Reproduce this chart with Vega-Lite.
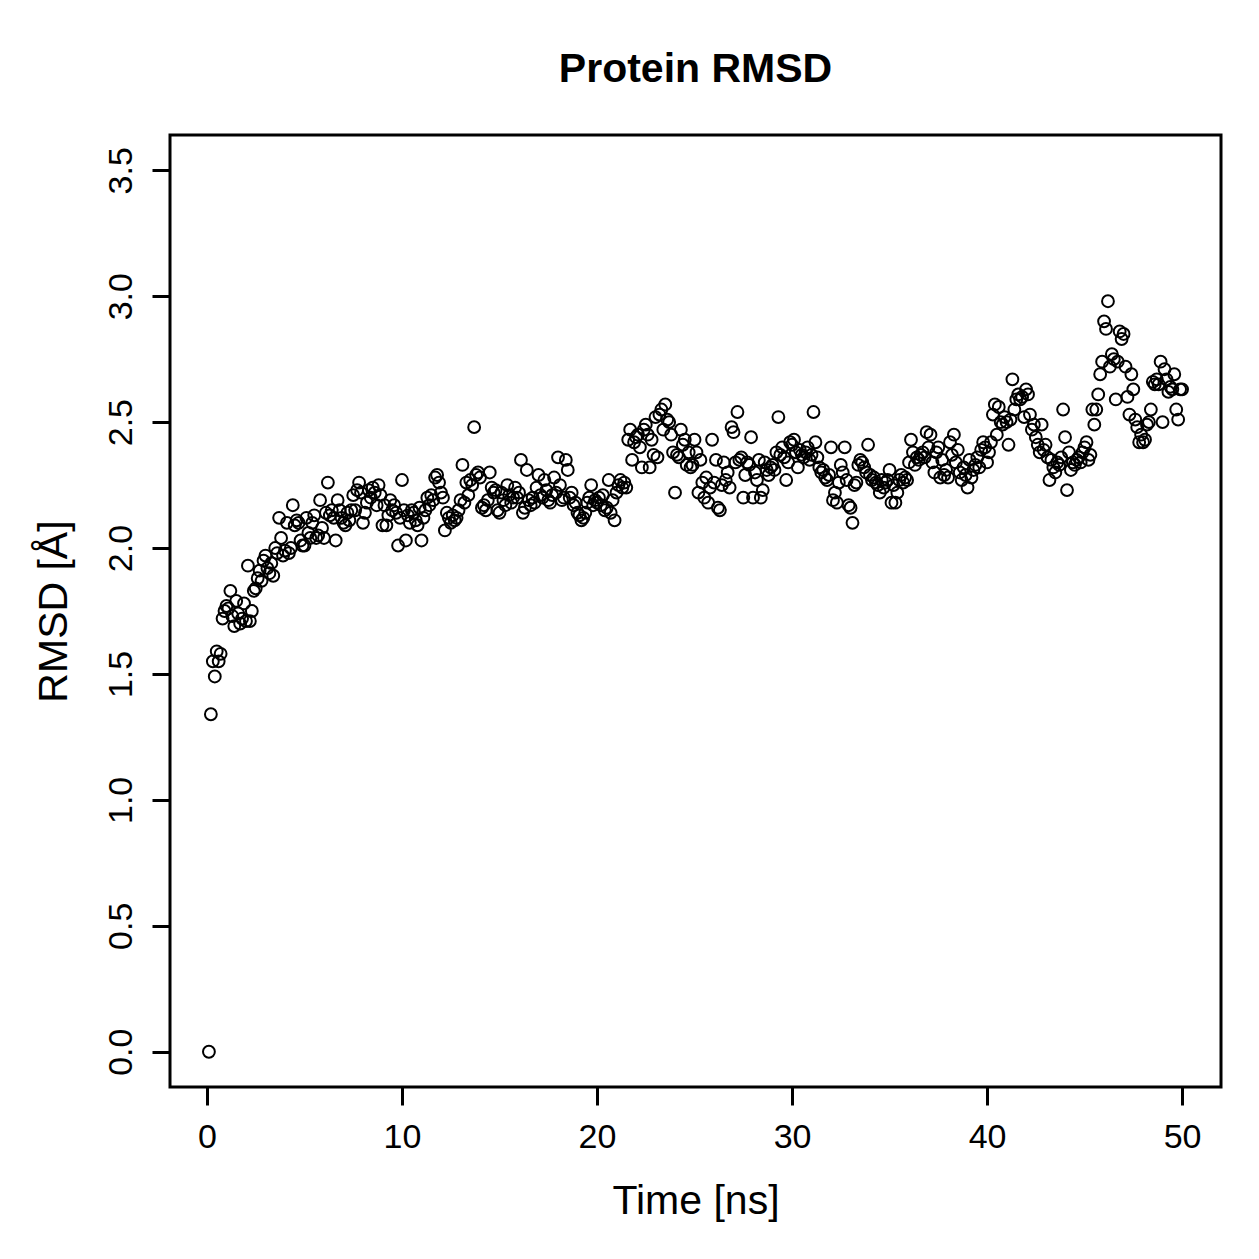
{
  "$schema": "https://vega.github.io/schema/vega-lite/v6.json",
  "width": 1051,
  "height": 952,
  "autosize": {"type": "none"},
  "padding": {"left": 170, "top": 135, "right": 38, "bottom": 172},
  "background": "white",
  "title": {
    "text": "Protein RMSD",
    "font": "Liberation Sans",
    "fontSize": 41,
    "fontWeight": "bold",
    "color": "black",
    "anchor": "middle",
    "baseline": "alphabetic",
    "offset": 12
  },
  "config": {
    "view": {"stroke": "black", "strokeWidth": 3},
    "axis": {
      "labelFont": "Liberation Sans",
      "titleFont": "Liberation Sans",
      "labelFontSize": 34,
      "titleFontSize": 41,
      "titleFontWeight": "normal",
      "labelColor": "black",
      "titleColor": "black",
      "tickColor": "black",
      "tickWidth": 3,
      "tickSize": 18,
      "domain": false,
      "grid": false
    }
  },
  "data": {
    "values": [
      {"t": 0.1, "r": 0.00}, {"t": 0.2, "r": 1.34}, {"t": 0.3, "r": 1.55}, {"t": 0.4, "r": 1.49}, {"t": 0.5, "r": 1.59},
      {"t": 0.6, "r": 1.55}, {"t": 0.7, "r": 1.58}, {"t": 0.8, "r": 1.72}, {"t": 0.9, "r": 1.75}, {"t": 1.0, "r": 1.77},
      {"t": 1.1, "r": 1.76}, {"t": 1.2, "r": 1.83}, {"t": 1.3, "r": 1.73}, {"t": 1.4, "r": 1.69}, {"t": 1.5, "r": 1.79},
      {"t": 1.6, "r": 1.74}, {"t": 1.7, "r": 1.70}, {"t": 1.8, "r": 1.72}, {"t": 1.9, "r": 1.78}, {"t": 2.0, "r": 1.71},
      {"t": 2.1, "r": 1.93}, {"t": 2.2, "r": 1.71}, {"t": 2.3, "r": 1.75}, {"t": 2.4, "r": 1.83}, {"t": 2.5, "r": 1.84},
      {"t": 2.6, "r": 1.88}, {"t": 2.7, "r": 1.91}, {"t": 2.8, "r": 1.87}, {"t": 2.9, "r": 1.95}, {"t": 3.0, "r": 1.97},
      {"t": 3.1, "r": 1.92}, {"t": 3.2, "r": 1.90}, {"t": 3.3, "r": 1.94}, {"t": 3.4, "r": 1.89}, {"t": 3.5, "r": 2.00},
      {"t": 3.6, "r": 1.98}, {"t": 3.7, "r": 2.12}, {"t": 3.8, "r": 2.04}, {"t": 3.9, "r": 1.97}, {"t": 4.0, "r": 1.99},
      {"t": 4.1, "r": 2.10}, {"t": 4.2, "r": 1.98}, {"t": 4.3, "r": 2.00}, {"t": 4.4, "r": 2.17}, {"t": 4.5, "r": 2.09},
      {"t": 4.6, "r": 2.11}, {"t": 4.7, "r": 2.10}, {"t": 4.8, "r": 2.03}, {"t": 4.9, "r": 2.01}, {"t": 5.0, "r": 2.01},
      {"t": 5.1, "r": 2.12}, {"t": 5.2, "r": 2.06}, {"t": 5.3, "r": 2.04}, {"t": 5.4, "r": 2.10}, {"t": 5.5, "r": 2.13},
      {"t": 5.6, "r": 2.04}, {"t": 5.7, "r": 2.05}, {"t": 5.8, "r": 2.19}, {"t": 5.9, "r": 2.08}, {"t": 6.0, "r": 2.04},
      {"t": 6.1, "r": 2.14}, {"t": 6.2, "r": 2.26}, {"t": 6.3, "r": 2.13}, {"t": 6.4, "r": 2.15}, {"t": 6.5, "r": 2.12},
      {"t": 6.6, "r": 2.03}, {"t": 6.7, "r": 2.19}, {"t": 6.8, "r": 2.15}, {"t": 6.9, "r": 2.12}, {"t": 7.0, "r": 2.10},
      {"t": 7.1, "r": 2.09}, {"t": 7.2, "r": 2.14}, {"t": 7.3, "r": 2.11}, {"t": 7.4, "r": 2.15}, {"t": 7.5, "r": 2.21},
      {"t": 7.6, "r": 2.15}, {"t": 7.7, "r": 2.23}, {"t": 7.8, "r": 2.26}, {"t": 7.9, "r": 2.22}, {"t": 8.0, "r": 2.10},
      {"t": 8.1, "r": 2.14}, {"t": 8.2, "r": 2.18}, {"t": 8.3, "r": 2.23}, {"t": 8.4, "r": 2.20}, {"t": 8.5, "r": 2.24},
      {"t": 8.6, "r": 2.22}, {"t": 8.7, "r": 2.17}, {"t": 8.8, "r": 2.25}, {"t": 8.9, "r": 2.21}, {"t": 9.0, "r": 2.09},
      {"t": 9.1, "r": 2.17}, {"t": 9.2, "r": 2.09}, {"t": 9.3, "r": 2.13}, {"t": 9.4, "r": 2.19}, {"t": 9.5, "r": 2.15},
      {"t": 9.6, "r": 2.17}, {"t": 9.7, "r": 2.14}, {"t": 9.8, "r": 2.01}, {"t": 9.9, "r": 2.12}, {"t": 10.0, "r": 2.27},
      {"t": 10.1, "r": 2.15}, {"t": 10.2, "r": 2.03}, {"t": 10.3, "r": 2.13}, {"t": 10.4, "r": 2.10}, {"t": 10.5, "r": 2.15},
      {"t": 10.6, "r": 2.14}, {"t": 10.7, "r": 2.11}, {"t": 10.8, "r": 2.09}, {"t": 10.9, "r": 2.16}, {"t": 11.0, "r": 2.03},
      {"t": 11.1, "r": 2.12}, {"t": 11.2, "r": 2.15}, {"t": 11.3, "r": 2.20}, {"t": 11.4, "r": 2.17}, {"t": 11.5, "r": 2.21},
      {"t": 11.6, "r": 2.19}, {"t": 11.7, "r": 2.28}, {"t": 11.8, "r": 2.29}, {"t": 11.9, "r": 2.26}, {"t": 12.0, "r": 2.22},
      {"t": 12.1, "r": 2.20}, {"t": 12.2, "r": 2.07}, {"t": 12.3, "r": 2.14}, {"t": 12.4, "r": 2.12}, {"t": 12.5, "r": 2.10},
      {"t": 12.6, "r": 2.13}, {"t": 12.7, "r": 2.11}, {"t": 12.8, "r": 2.12}, {"t": 12.9, "r": 2.15}, {"t": 13.0, "r": 2.19},
      {"t": 13.1, "r": 2.33}, {"t": 13.2, "r": 2.18}, {"t": 13.3, "r": 2.26}, {"t": 13.4, "r": 2.21}, {"t": 13.5, "r": 2.27},
      {"t": 13.6, "r": 2.25}, {"t": 13.7, "r": 2.48}, {"t": 13.8, "r": 2.29}, {"t": 13.9, "r": 2.30}, {"t": 14.0, "r": 2.28},
      {"t": 14.1, "r": 2.16}, {"t": 14.2, "r": 2.17}, {"t": 14.3, "r": 2.15}, {"t": 14.4, "r": 2.19}, {"t": 14.5, "r": 2.30},
      {"t": 14.6, "r": 2.24}, {"t": 14.7, "r": 2.22}, {"t": 14.8, "r": 2.23}, {"t": 14.9, "r": 2.15}, {"t": 15.0, "r": 2.14},
      {"t": 15.1, "r": 2.22}, {"t": 15.2, "r": 2.19}, {"t": 15.3, "r": 2.17}, {"t": 15.4, "r": 2.25}, {"t": 15.5, "r": 2.21},
      {"t": 15.6, "r": 2.18}, {"t": 15.7, "r": 2.20}, {"t": 15.8, "r": 2.24}, {"t": 15.9, "r": 2.20}, {"t": 16.0, "r": 2.22},
      {"t": 16.1, "r": 2.35}, {"t": 16.2, "r": 2.14}, {"t": 16.3, "r": 2.16}, {"t": 16.4, "r": 2.31}, {"t": 16.5, "r": 2.19},
      {"t": 16.6, "r": 2.17}, {"t": 16.7, "r": 2.20}, {"t": 16.8, "r": 2.18}, {"t": 16.9, "r": 2.24}, {"t": 17.0, "r": 2.29},
      {"t": 17.1, "r": 2.21}, {"t": 17.2, "r": 2.20}, {"t": 17.3, "r": 2.27}, {"t": 17.4, "r": 2.23}, {"t": 17.5, "r": 2.19},
      {"t": 17.6, "r": 2.18}, {"t": 17.7, "r": 2.21}, {"t": 17.8, "r": 2.28}, {"t": 17.9, "r": 2.22}, {"t": 18.0, "r": 2.36},
      {"t": 18.1, "r": 2.25}, {"t": 18.2, "r": 2.19}, {"t": 18.3, "r": 2.20}, {"t": 18.4, "r": 2.35}, {"t": 18.5, "r": 2.31},
      {"t": 18.6, "r": 2.20}, {"t": 18.7, "r": 2.22}, {"t": 18.8, "r": 2.17}, {"t": 18.9, "r": 2.18}, {"t": 19.0, "r": 2.14},
      {"t": 19.1, "r": 2.13}, {"t": 19.2, "r": 2.11}, {"t": 19.3, "r": 2.12}, {"t": 19.4, "r": 2.14}, {"t": 19.5, "r": 2.18},
      {"t": 19.6, "r": 2.20}, {"t": 19.7, "r": 2.25}, {"t": 19.8, "r": 2.17}, {"t": 19.9, "r": 2.19}, {"t": 20.0, "r": 2.18},
      {"t": 20.1, "r": 2.20}, {"t": 20.2, "r": 2.17}, {"t": 20.3, "r": 2.21}, {"t": 20.4, "r": 2.15}, {"t": 20.5, "r": 2.16},
      {"t": 20.6, "r": 2.27}, {"t": 20.7, "r": 2.14}, {"t": 20.8, "r": 2.19}, {"t": 20.9, "r": 2.11}, {"t": 21.0, "r": 2.22},
      {"t": 21.1, "r": 2.25}, {"t": 21.2, "r": 2.27}, {"t": 21.3, "r": 2.24}, {"t": 21.4, "r": 2.26}, {"t": 21.5, "r": 2.24},
      {"t": 21.6, "r": 2.43}, {"t": 21.7, "r": 2.47}, {"t": 21.8, "r": 2.35}, {"t": 21.9, "r": 2.42}, {"t": 22.0, "r": 2.44},
      {"t": 22.1, "r": 2.45}, {"t": 22.2, "r": 2.40}, {"t": 22.3, "r": 2.32}, {"t": 22.4, "r": 2.47}, {"t": 22.5, "r": 2.49},
      {"t": 22.6, "r": 2.45}, {"t": 22.7, "r": 2.32}, {"t": 22.8, "r": 2.43}, {"t": 22.9, "r": 2.37}, {"t": 23.0, "r": 2.52},
      {"t": 23.1, "r": 2.36}, {"t": 23.2, "r": 2.53}, {"t": 23.3, "r": 2.55}, {"t": 23.4, "r": 2.47}, {"t": 23.5, "r": 2.57},
      {"t": 23.6, "r": 2.51}, {"t": 23.7, "r": 2.50}, {"t": 23.8, "r": 2.45}, {"t": 23.9, "r": 2.38}, {"t": 24.0, "r": 2.22},
      {"t": 24.1, "r": 2.37}, {"t": 24.2, "r": 2.36}, {"t": 24.3, "r": 2.47}, {"t": 24.4, "r": 2.41}, {"t": 24.5, "r": 2.43},
      {"t": 24.6, "r": 2.33}, {"t": 24.7, "r": 2.38}, {"t": 24.8, "r": 2.32}, {"t": 24.9, "r": 2.33}, {"t": 25.0, "r": 2.43},
      {"t": 25.1, "r": 2.38}, {"t": 25.2, "r": 2.22}, {"t": 25.3, "r": 2.35}, {"t": 25.4, "r": 2.26}, {"t": 25.5, "r": 2.20},
      {"t": 25.6, "r": 2.28}, {"t": 25.7, "r": 2.18}, {"t": 25.8, "r": 2.24}, {"t": 25.9, "r": 2.43}, {"t": 26.0, "r": 2.26},
      {"t": 26.1, "r": 2.35}, {"t": 26.2, "r": 2.16}, {"t": 26.3, "r": 2.15}, {"t": 26.4, "r": 2.25}, {"t": 26.5, "r": 2.34},
      {"t": 26.6, "r": 2.27}, {"t": 26.7, "r": 2.30}, {"t": 26.8, "r": 2.24}, {"t": 26.9, "r": 2.48}, {"t": 27.0, "r": 2.46},
      {"t": 27.1, "r": 2.34}, {"t": 27.2, "r": 2.54}, {"t": 27.3, "r": 2.35}, {"t": 27.4, "r": 2.36}, {"t": 27.5, "r": 2.20},
      {"t": 27.6, "r": 2.29}, {"t": 27.7, "r": 2.34}, {"t": 27.8, "r": 2.33}, {"t": 27.9, "r": 2.44}, {"t": 28.0, "r": 2.20},
      {"t": 28.1, "r": 2.30}, {"t": 28.2, "r": 2.27}, {"t": 28.3, "r": 2.35}, {"t": 28.4, "r": 2.20}, {"t": 28.5, "r": 2.23},
      {"t": 28.6, "r": 2.34}, {"t": 28.7, "r": 2.31}, {"t": 28.8, "r": 2.29}, {"t": 28.9, "r": 2.32}, {"t": 29.0, "r": 2.33},
      {"t": 29.1, "r": 2.31}, {"t": 29.2, "r": 2.38}, {"t": 29.3, "r": 2.52}, {"t": 29.4, "r": 2.37}, {"t": 29.5, "r": 2.40},
      {"t": 29.6, "r": 2.36}, {"t": 29.7, "r": 2.27}, {"t": 29.8, "r": 2.34}, {"t": 29.9, "r": 2.42}, {"t": 30.0, "r": 2.41},
      {"t": 30.1, "r": 2.43}, {"t": 30.2, "r": 2.38}, {"t": 30.3, "r": 2.32}, {"t": 30.4, "r": 2.39}, {"t": 30.5, "r": 2.37},
      {"t": 30.6, "r": 2.36}, {"t": 30.7, "r": 2.38}, {"t": 30.8, "r": 2.40}, {"t": 30.9, "r": 2.35}, {"t": 31.0, "r": 2.37},
      {"t": 31.1, "r": 2.54}, {"t": 31.2, "r": 2.42}, {"t": 31.3, "r": 2.36}, {"t": 31.4, "r": 2.32}, {"t": 31.5, "r": 2.30},
      {"t": 31.6, "r": 2.31}, {"t": 31.7, "r": 2.28}, {"t": 31.8, "r": 2.27}, {"t": 31.9, "r": 2.29}, {"t": 32.0, "r": 2.40},
      {"t": 32.1, "r": 2.19}, {"t": 32.2, "r": 2.22}, {"t": 32.3, "r": 2.18}, {"t": 32.4, "r": 2.26}, {"t": 32.5, "r": 2.33},
      {"t": 32.6, "r": 2.30}, {"t": 32.7, "r": 2.40}, {"t": 32.8, "r": 2.27}, {"t": 32.9, "r": 2.17}, {"t": 33.0, "r": 2.16},
      {"t": 33.1, "r": 2.10}, {"t": 33.2, "r": 2.25}, {"t": 33.3, "r": 2.26}, {"t": 33.4, "r": 2.33}, {"t": 33.5, "r": 2.35},
      {"t": 33.6, "r": 2.34}, {"t": 33.7, "r": 2.32}, {"t": 33.8, "r": 2.30}, {"t": 33.9, "r": 2.41}, {"t": 34.0, "r": 2.29},
      {"t": 34.1, "r": 2.27}, {"t": 34.2, "r": 2.28}, {"t": 34.3, "r": 2.26}, {"t": 34.4, "r": 2.25}, {"t": 34.5, "r": 2.22},
      {"t": 34.6, "r": 2.27}, {"t": 34.7, "r": 2.24}, {"t": 34.8, "r": 2.26}, {"t": 34.9, "r": 2.27}, {"t": 35.0, "r": 2.31},
      {"t": 35.1, "r": 2.18}, {"t": 35.2, "r": 2.25}, {"t": 35.3, "r": 2.18}, {"t": 35.4, "r": 2.22}, {"t": 35.5, "r": 2.27},
      {"t": 35.6, "r": 2.29}, {"t": 35.7, "r": 2.26}, {"t": 35.8, "r": 2.28}, {"t": 35.9, "r": 2.27}, {"t": 36.0, "r": 2.34},
      {"t": 36.1, "r": 2.43}, {"t": 36.2, "r": 2.38}, {"t": 36.3, "r": 2.33}, {"t": 36.4, "r": 2.36}, {"t": 36.5, "r": 2.35},
      {"t": 36.6, "r": 2.37}, {"t": 36.7, "r": 2.38}, {"t": 36.8, "r": 2.36}, {"t": 36.9, "r": 2.46}, {"t": 37.0, "r": 2.40},
      {"t": 37.1, "r": 2.45}, {"t": 37.2, "r": 2.34}, {"t": 37.3, "r": 2.30}, {"t": 37.4, "r": 2.38}, {"t": 37.5, "r": 2.40},
      {"t": 37.6, "r": 2.28}, {"t": 37.7, "r": 2.35}, {"t": 37.8, "r": 2.29}, {"t": 37.9, "r": 2.31}, {"t": 38.0, "r": 2.28},
      {"t": 38.1, "r": 2.42}, {"t": 38.2, "r": 2.37}, {"t": 38.3, "r": 2.45}, {"t": 38.4, "r": 2.34}, {"t": 38.5, "r": 2.39},
      {"t": 38.6, "r": 2.30}, {"t": 38.7, "r": 2.27}, {"t": 38.8, "r": 2.32}, {"t": 38.9, "r": 2.29}, {"t": 39.0, "r": 2.24},
      {"t": 39.1, "r": 2.35}, {"t": 39.2, "r": 2.28}, {"t": 39.3, "r": 2.31}, {"t": 39.4, "r": 2.33}, {"t": 39.5, "r": 2.36},
      {"t": 39.6, "r": 2.32}, {"t": 39.7, "r": 2.39}, {"t": 39.8, "r": 2.42}, {"t": 39.9, "r": 2.40}, {"t": 40.0, "r": 2.34},
      {"t": 40.1, "r": 2.38}, {"t": 40.2, "r": 2.42}, {"t": 40.3, "r": 2.53}, {"t": 40.4, "r": 2.57}, {"t": 40.5, "r": 2.45},
      {"t": 40.6, "r": 2.56}, {"t": 40.7, "r": 2.50}, {"t": 40.8, "r": 2.49}, {"t": 40.9, "r": 2.52}, {"t": 41.0, "r": 2.50},
      {"t": 41.1, "r": 2.41}, {"t": 41.2, "r": 2.51}, {"t": 41.3, "r": 2.67}, {"t": 41.4, "r": 2.55}, {"t": 41.5, "r": 2.59},
      {"t": 41.6, "r": 2.61}, {"t": 41.7, "r": 2.59}, {"t": 41.8, "r": 2.60}, {"t": 41.9, "r": 2.52}, {"t": 42.0, "r": 2.63},
      {"t": 42.1, "r": 2.61}, {"t": 42.2, "r": 2.53}, {"t": 42.3, "r": 2.47}, {"t": 42.4, "r": 2.49}, {"t": 42.5, "r": 2.44},
      {"t": 42.6, "r": 2.41}, {"t": 42.7, "r": 2.38}, {"t": 42.8, "r": 2.49}, {"t": 42.9, "r": 2.39}, {"t": 43.0, "r": 2.41},
      {"t": 43.1, "r": 2.36}, {"t": 43.2, "r": 2.27}, {"t": 43.3, "r": 2.35}, {"t": 43.4, "r": 2.32}, {"t": 43.5, "r": 2.30},
      {"t": 43.6, "r": 2.34}, {"t": 43.7, "r": 2.33}, {"t": 43.8, "r": 2.36}, {"t": 43.9, "r": 2.55}, {"t": 44.0, "r": 2.44},
      {"t": 44.1, "r": 2.23}, {"t": 44.2, "r": 2.38}, {"t": 44.3, "r": 2.31}, {"t": 44.4, "r": 2.34}, {"t": 44.5, "r": 2.33},
      {"t": 44.6, "r": 2.35}, {"t": 44.7, "r": 2.36}, {"t": 44.8, "r": 2.34}, {"t": 44.9, "r": 2.38}, {"t": 45.0, "r": 2.40},
      {"t": 45.1, "r": 2.42}, {"t": 45.2, "r": 2.35}, {"t": 45.3, "r": 2.37}, {"t": 45.4, "r": 2.55}, {"t": 45.5, "r": 2.49},
      {"t": 45.6, "r": 2.55}, {"t": 45.7, "r": 2.61}, {"t": 45.8, "r": 2.69}, {"t": 45.9, "r": 2.74}, {"t": 46.0, "r": 2.90},
      {"t": 46.1, "r": 2.87}, {"t": 46.2, "r": 2.98}, {"t": 46.3, "r": 2.72}, {"t": 46.4, "r": 2.77}, {"t": 46.5, "r": 2.75},
      {"t": 46.6, "r": 2.59}, {"t": 46.7, "r": 2.74}, {"t": 46.8, "r": 2.86}, {"t": 46.9, "r": 2.83}, {"t": 47.0, "r": 2.85},
      {"t": 47.1, "r": 2.72}, {"t": 47.2, "r": 2.60}, {"t": 47.3, "r": 2.53}, {"t": 47.4, "r": 2.69}, {"t": 47.5, "r": 2.63},
      {"t": 47.6, "r": 2.51}, {"t": 47.7, "r": 2.48}, {"t": 47.8, "r": 2.42}, {"t": 47.9, "r": 2.45}, {"t": 48.0, "r": 2.42},
      {"t": 48.1, "r": 2.43}, {"t": 48.2, "r": 2.49}, {"t": 48.3, "r": 2.50}, {"t": 48.4, "r": 2.55}, {"t": 48.5, "r": 2.66},
      {"t": 48.6, "r": 2.65}, {"t": 48.7, "r": 2.67}, {"t": 48.8, "r": 2.65}, {"t": 48.9, "r": 2.74}, {"t": 49.0, "r": 2.50},
      {"t": 49.1, "r": 2.71}, {"t": 49.2, "r": 2.67}, {"t": 49.3, "r": 2.62}, {"t": 49.4, "r": 2.64}, {"t": 49.5, "r": 2.63},
      {"t": 49.6, "r": 2.69}, {"t": 49.7, "r": 2.55}, {"t": 49.8, "r": 2.51}, {"t": 49.9, "r": 2.63}, {"t": 50.0, "r": 2.63}
    ]
  },
  "mark": {
    "type": "point",
    "shape": "circle",
    "filled": false,
    "color": "black",
    "size": 140,
    "strokeWidth": 2,
    "opacity": 1
  },
  "encoding": {
    "x": {
      "field": "t",
      "type": "quantitative",
      "scale": {"domain": [-1.896, 51.996], "nice": false, "zero": false},
      "axis": {
        "title": "Time [ns]",
        "values": [0, 10, 20, 30, 40, 50],
        "format": "d",
        "labelBaseline": "alphabetic",
        "labelPadding": 42,
        "labelFlush": false,
        "labelOverlap": false,
        "titleBaseline": "alphabetic",
        "titleY": 126,
        "titleX": 525.5,
        "titleAnchor": "middle"
      }
    },
    "y": {
      "field": "r",
      "type": "quantitative",
      "scale": {"domain": [-0.14, 3.64], "nice": false, "zero": false},
      "axis": {
        "title": "RMSD [Å]",
        "values": [0, 0.5, 1, 1.5, 2, 2.5, 3, 3.5],
        "format": ".1f",
        "labelAngle": -90,
        "labelAlign": "center",
        "labelBaseline": "alphabetic",
        "labelPadding": 21,
        "labelFlush": false,
        "labelOverlap": false,
        "titleAngle": -90,
        "titleBaseline": "alphabetic",
        "titleAlign": "center",
        "titleX": -104,
        "titleY": 476
      }
    }
  }
}
